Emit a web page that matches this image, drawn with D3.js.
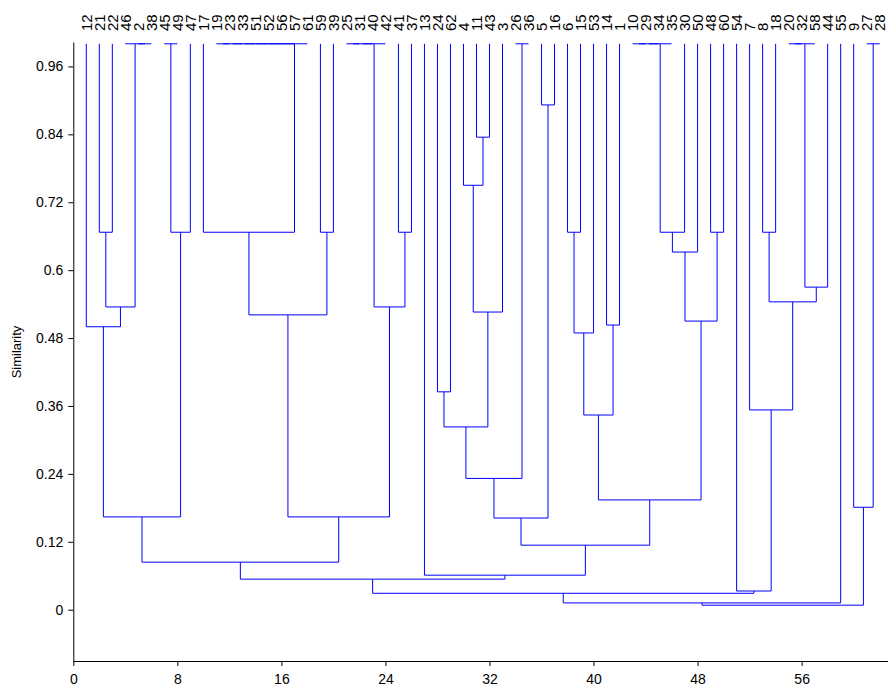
<!DOCTYPE html>
<html>
<head>
<meta charset="utf-8">
<script src="https://cdn.jsdelivr.net/npm/d3@7"></script>
<style>
  body { margin: 0; background: #fff; }
  text { font-family: "Liberation Sans", Arial, sans-serif; }
</style>
</head>
<body>
<div class="mainCont"></div>
<script>
// leaf labels, left to right
var leafOrder = ["12", "21", "22", "46", "2", "38", "45", "49", "47", "17",
    "19", "23", "33", "51", "52", "56", "57", "61", "59", "39",
    "25", "31", "40", "42", "41", "37", "13", "24", "62", "4",
    "11", "43", "3", "26", "36", "5", "16", "6", "15", "53",
    "14", "1", "10", "29", "34", "35", "30", "50", "48", "60",
    "54", "7", "8", "18", "20", "32", "58", "44", "55", "9",
    "27", "28"];

// merges: [left, right, similarity]; strings are leaves, numbers point to earlier merges
var merges = [
    ["21", "22", 0.667], ["2", "38", 1], ["46", 1, 1], [0, 2, 0.535], ["12", 3, 0.5],
    ["45", "49", 1], [5, "47", 0.667], [4, 6, 0.164],
    ["19", "23", 1], [8, "33", 1], [9, "51", 1], [10, "52", 1], [11, "56", 1], [12, "57", 1], [13, "61", 1],
    ["17", 14, 0.667], ["59", "39", 0.667], [15, 16, 0.521],
    ["25", "31", 1], [18, "40", 1], [19, "42", 1], ["41", "37", 0.667], [20, 21, 0.535],
    [17, 22, 0.164], [7, 23, 0.084],
    ["11", "43", 0.835], ["4", 25, 0.75], [26, "3", 0.526], ["24", "62", 0.385], [28, 27, 0.323],
    ["26", "36", 1], [29, 30, 0.232], ["5", "16", 0.892], [31, 32, 0.162],
    ["6", "15", 0.667], [34, "53", 0.489], ["14", "1", 0.503], [35, 36, 0.344],
    ["10", "29", 1], [38, "34", 1], [39, "35", 1], [40, "30", 0.667], [41, "50", 0.632],
    ["48", "60", 0.667], [42, 43, 0.51], [37, 44, 0.194], [33, 45, 0.114],
    ["13", 46, 0.061], [24, 47, 0.054],
    ["8", "18", 0.667], ["20", "32", 1], [50, "58", 1], [51, "44", 0.57], [49, 52, 0.544],
    ["7", 53, 0.353], ["54", 54, 0.033], [48, 55, 0.029], [56, "55", 0.012],
    ["27", "28", 1], ["9", 58, 0.181], [57, 59, 0.008]
];

var xTicks = [0, 8, 16, 24, 32, 40, 48, 56];
var yTicks = [0, 0.12, 0.24, 0.36, 0.48, 0.6, 0.72, 0.84, 0.96];

var width = 888, height = 688;

var svg = d3.select(".mainCont").append("svg")
    .attr("width", width)
    .attr("height", height);

var x = d3.scaleLinear().domain([0, 62.64]).range([73.3, 888]);
var y = d3.scaleLinear().domain([0, 1]).range([609.7, 43.8]);
var axisBottomY = 661;

// build nested tree from the merge list
function node(ref) {
    if (typeof ref === "string") return { name: ref, sim: 1 };
    var m = merges[ref];
    return { sim: m[2], children: [node(m[0]), node(m[1])] };
}
var root = d3.hierarchy(node(merges.length - 1));

// leaf x = position in order (1..n), inner x = midpoint of children
root.leaves().forEach(function(d) {
    d.pos = leafOrder.indexOf(d.data.name) + 1;
});
root.eachAfter(function(d) {
    if (d.children) d.pos = (d.children[0].pos + d.children[1].pos) / 2;
});

var g = svg.append("g")
    .attr("fill", "none")
    .attr("stroke", "#0000ff")
    .attr("stroke-width", 1);

root.descendants().filter(function(d) { return d.children; }).forEach(function(d) {
    var yy = y(d.data.sim);
    g.append("line")
        .attr("x1", x(d.children[0].pos)).attr("x2", x(d.children[1].pos))
        .attr("y1", yy).attr("y2", yy);
    d.children.forEach(function(c) {
        g.append("line")
            .attr("x1", x(c.pos)).attr("x2", x(c.pos))
            .attr("y1", y(c.data.sim)).attr("y2", yy);
    });
});

// leaf labels on top
svg.selectAll(".leaf")
    .data(root.leaves())
    .enter().append("text")
    .attr("class", "leaf")
    .attr("transform", function(d) {
        return "translate(" + (x(d.pos) + 5.5) + ",31) rotate(-90)";
    })
    .attr("font-size", 15)
    .attr("fill", "#000")
    .text(function(d) { return d.data.name; });

// axes
var yAxisScale = d3.scaleLinear()
    .domain([y.invert(axisBottomY), y.invert(42)])
    .range([axisBottomY, 42]);

svg.append("g")
    .attr("transform", "translate(" + x(0) + ",0)")
    .call(d3.axisLeft(yAxisScale)
        .tickValues(yTicks)
        .tickSize(5)
        .tickSizeOuter(0)
        .tickPadding(5)
        .tickFormat(function(d) { return String(+d.toFixed(2)); }));

svg.append("g")
    .attr("transform", "translate(0," + axisBottomY + ")")
    .call(d3.axisBottom(x)
        .tickValues(xTicks)
        .tickSize(5)
        .tickSizeOuter(0)
        .tickPadding(8));

svg.selectAll(".tick text")
    .attr("font-size", 14)
    .attr("font-family", "'Liberation Sans', Arial, sans-serif")
    .attr("fill", "#000");
svg.selectAll(".domain, .tick line").attr("stroke", "#000");

svg.append("text")
    .attr("transform", "translate(21,352) rotate(-90)")
    .attr("text-anchor", "middle")
    .attr("font-size", 13)
    .attr("fill", "#000")
    .text("Similarity");
</script>
</body>
</html>
